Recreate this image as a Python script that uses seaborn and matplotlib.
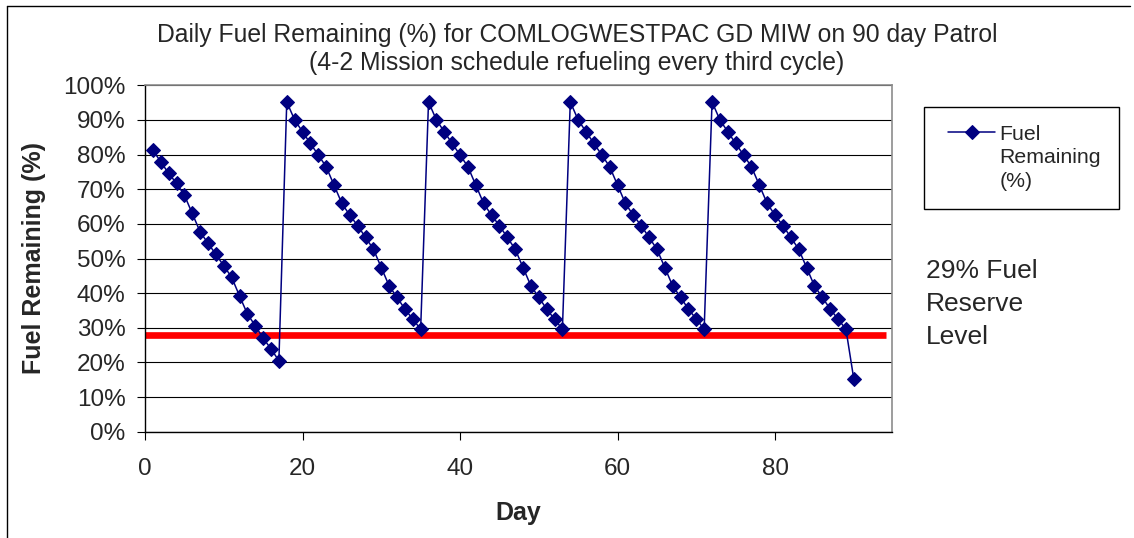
import pandas as pd
import seaborn as sns
import matplotlib.pyplot as plt
from matplotlib.lines import Line2D

# daily fuel remaining (%), days 1..90
days = list(range(1, 91))
fuel_remaining = [
    81.3, 77.9, 74.6, 71.7, 68.3, 63.0, 57.7, 54.4, 51.2, 47.9,
    44.6, 39.2, 34.0, 30.6, 27.0, 23.9, 20.5,
    95.2, 90.0, 86.6, 83.2, 79.9, 76.5, 71.2, 65.9, 62.5, 59.5,
    56.1, 52.7, 47.4, 42.1, 38.8, 35.4, 32.5, 29.6,
    95.2, 90.0, 86.6, 83.2, 79.9, 76.5, 71.2, 65.9, 62.5, 59.5,
    56.1, 52.7, 47.4, 42.1, 38.8, 35.4, 32.5, 29.6,
    95.2, 90.0, 86.6, 83.2, 79.9, 76.5, 71.2, 65.9, 62.5, 59.5,
    56.1, 52.7, 47.4, 42.1, 38.8, 35.4, 32.5, 29.6,
    95.2, 90.0, 86.6, 83.2, 79.9, 76.5, 71.2, 65.9, 62.5, 59.5,
    56.1, 52.7, 47.4, 42.1, 38.8, 35.4, 32.5, 29.6,
    15.2,
]
reserve_level = 28
reserve_days = [-0.4, 94.1]

y_ticks = [0, 10, 20, 30, 40, 50, 60, 70, 80, 90, 100]
y_tick_labels = [f'{v}%' for v in y_ticks]
x_ticks = [0, 20, 40, 60, 80]

title = ('Daily Fuel Remaining (%) for COMLOGWESTPAC GD MIW on 90 day Patrol\n'
         '(4-2 Mission schedule refueling every third cycle)')

sns.set_style('white')
plt.rcParams['font.family'] = ['Liberation Sans', 'DejaVu Sans']

df = pd.DataFrame({'Day': days, 'Fuel': fuel_remaining})

W, H = 1134, 538
fig = plt.figure(figsize=(W / 100, H / 100), dpi=100)
ax = fig.add_axes([145 / W, 1 - 431.7 / H, 747 / W, 346.4 / H])

navy = '#000080'
sns.lineplot(data=df, x='Day', y='Fuel', ax=ax, color=navy, lw=1.1,
             marker='D', markersize=7.5, markeredgecolor=navy,
             label='Fuel\nRemaining\n(%)', zorder=3)
ax.plot(reserve_days, [reserve_level] * 2, color='red', lw=4.8,
        solid_capstyle='butt', zorder=2)

ax.set_xlim(0, 94.85)
ax.set_ylim(0, 100)
ax.set_yticks(y_ticks)
ax.set_yticklabels(y_tick_labels)
ax.set_xticks(x_ticks)
ax.yaxis.grid(True, color='black', lw=0.8)
ax.set_axisbelow(True)
ax.tick_params(axis='both', which='major', bottom=True, left=True,
               direction='out', length=6, width=0.8, color='black',
               labelsize=17.5)
ax.tick_params(axis='y', pad=8)
ax.tick_params(axis='x', pad=13)

for side in ['left', 'bottom']:
    ax.spines[side].set_color('black')
    ax.spines[side].set_linewidth(1)
for side in ['top', 'right']:
    ax.spines[side].set_color('#8c8c8c')
    ax.spines[side].set_linewidth(1.2)

ax.set_xlabel('Day', fontsize=18, fontweight='bold')
ax.set_ylabel('Fuel Remaining (%)', fontsize=18, fontweight='bold')
ax.xaxis.set_label_coords(0.5, -0.2)
ax.yaxis.set_label_coords(-0.1325, 0.5)

leg = ax.legend(loc='upper left', bbox_to_anchor=(924 / W, 1 - 106.7 / H),
                bbox_transform=fig.transFigure, frameon=True, fancybox=False,
                edgecolor='black', fontsize=15.3, handlelength=2.25,
                handletextpad=0.45, borderpad=0.85, borderaxespad=0,
                framealpha=1)
leg.get_frame().set_linewidth(1)
leg.get_texts()[0].set_linespacing(1.3)
# Excel puts the legend key level with the first text line
handle = leg.legend_handles[0]
handle.set_xdata([x + 4 for x in handle.get_xdata()])
handle.set_ydata([y + 18.5 for y in handle.get_ydata()])

fig.text(577 / W, 1 - 70 / H, title, ha='center', va='baseline',
         fontsize=17.8, linespacing=1.2)
fig.text(926 / W, 1 - 259 / H, '29% Fuel\nReserve\nLevel', ha='left',
         va='top', fontsize=19, linespacing=1.48)

# chart-area border (left and top edges visible in the reference)
fig.add_artist(Line2D([6.5 / W, 6.5 / W], [0, 1 - 5.5 / H],
                      transform=fig.transFigure, color='black', lw=1))
fig.add_artist(Line2D([6.5 / W, 1130 / W], [1 - 5.5 / H, 1 - 5.5 / H],
                      transform=fig.transFigure, color='black', lw=1))

plt.savefig('out.png', dpi=100)
